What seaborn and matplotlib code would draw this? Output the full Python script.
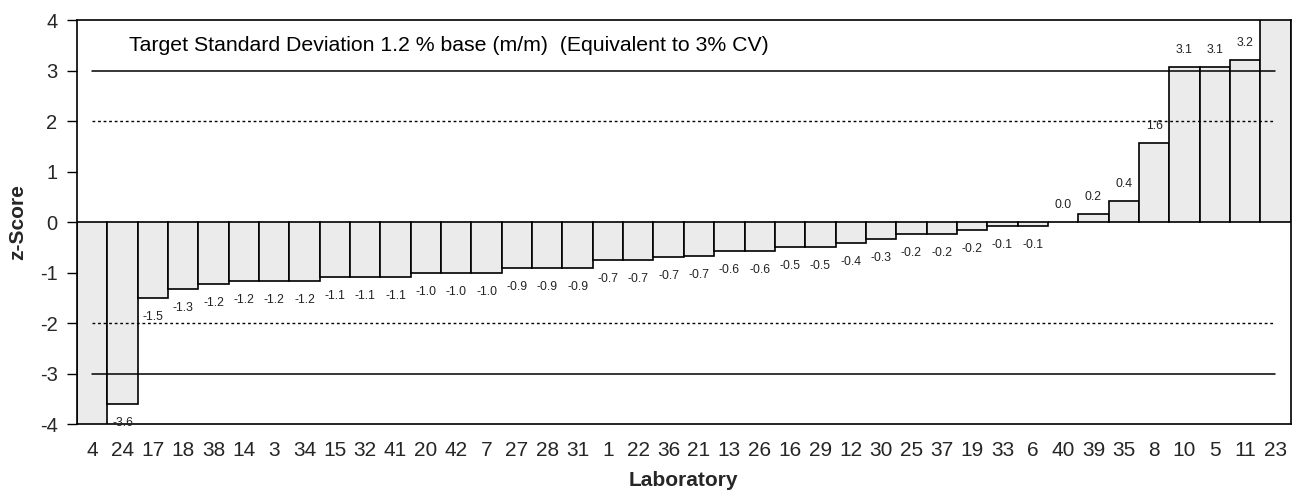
import matplotlib
matplotlib.use("Agg")
import matplotlib.pyplot as plt
import seaborn as sns
import pandas as pd

labs = ["4", "24", "17", "18", "38", "14", "3", "34", "15", "32", "41", "20", "42", "7",
        "27", "28", "31", "1", "22", "36", "21", "13", "26", "16", "29", "12", "30", "25",
        "37", "19", "33", "6", "40", "39", "35", "8", "10", "5", "11", "23"]
zscores = [-4.8, -3.6, -1.5, -1.33, -1.22, -1.16, -1.16, -1.16, -1.08, -1.08, -1.08, -1.0, -1.0, -1.0,
           -0.9, -0.9, -0.9, -0.74, -0.74, -0.7, -0.67, -0.57, -0.57, -0.5, -0.5, -0.41, -0.33, -0.24,
           -0.24, -0.16, -0.08, -0.08, 0.0, 0.17, 0.41, 1.57, 3.08, 3.08, 3.22, 4.8]
yticks = [-4, -3, -2, -1, 0, 1, 2, 3, 4]
note = "Target Standard Deviation 1.2 % base (m/m)  (Equivalent to 3% CV)"

sns.set_style("white")
plt.rcParams["font.family"] = ["Liberation Sans", "DejaVu Sans"]
plt.rcParams["axes.unicode_minus"] = False

df = pd.DataFrame({"Laboratory": labs, "z": zscores})

fig = plt.figure(figsize=(13.05, 4.92), dpi=100)
ax = fig.add_axes([0.059, 0.138, 0.930, 0.821])

sns.barplot(data=df, x="Laboratory", y="z", order=labs, color="#ebebeb",
            saturation=1, width=1.0, edgecolor="black", linewidth=1.2, ax=ax)

n = len(labs)
for yv, ls in [(3, "-"), (-3, "-"), (2, (0, (2, 2))), (-2, (0, (2, 2)))]:
    ax.plot([0, n - 1], [yv, yv], color="black", lw=1.0 if ls != "-" else 1.1, linestyle=ls, zorder=3)

for i, v in enumerate(zscores):
    if -4 <= v <= 4:
        off = 17 if v >= 0 else -19
        ax.annotate(f"{v:.1f}", (i, v), xytext=(0, off), textcoords="offset pixels",
                    ha="center", va="center", fontsize=8.8, color="#222222", zorder=4,
                    annotation_clip=False)

ax.text(1.2, 3.5, note, fontsize=15.3, ha="left", va="center", color="black")

ax.set_xlim(-0.5, n - 0.5)
ax.set_ylim(-4, 4)
ax.set_yticks(yticks)
ax.set_yticklabels([str(t) for t in yticks])
ax.tick_params(axis="y", left=True, length=7, width=1, pad=7, labelsize=14.5, color="black")
ax.tick_params(axis="x", length=0, pad=12, labelsize=15)
ax.set_xlabel("Laboratory", fontsize=15, fontweight="bold", labelpad=8)
ax.set_ylabel("z-Score", fontsize=15, fontweight="bold", labelpad=9)
for s in ax.spines.values():
    s.set_visible(True)
    s.set_color("black")
    s.set_linewidth(1.2)

fig.savefig("out.png", dpi=100)
